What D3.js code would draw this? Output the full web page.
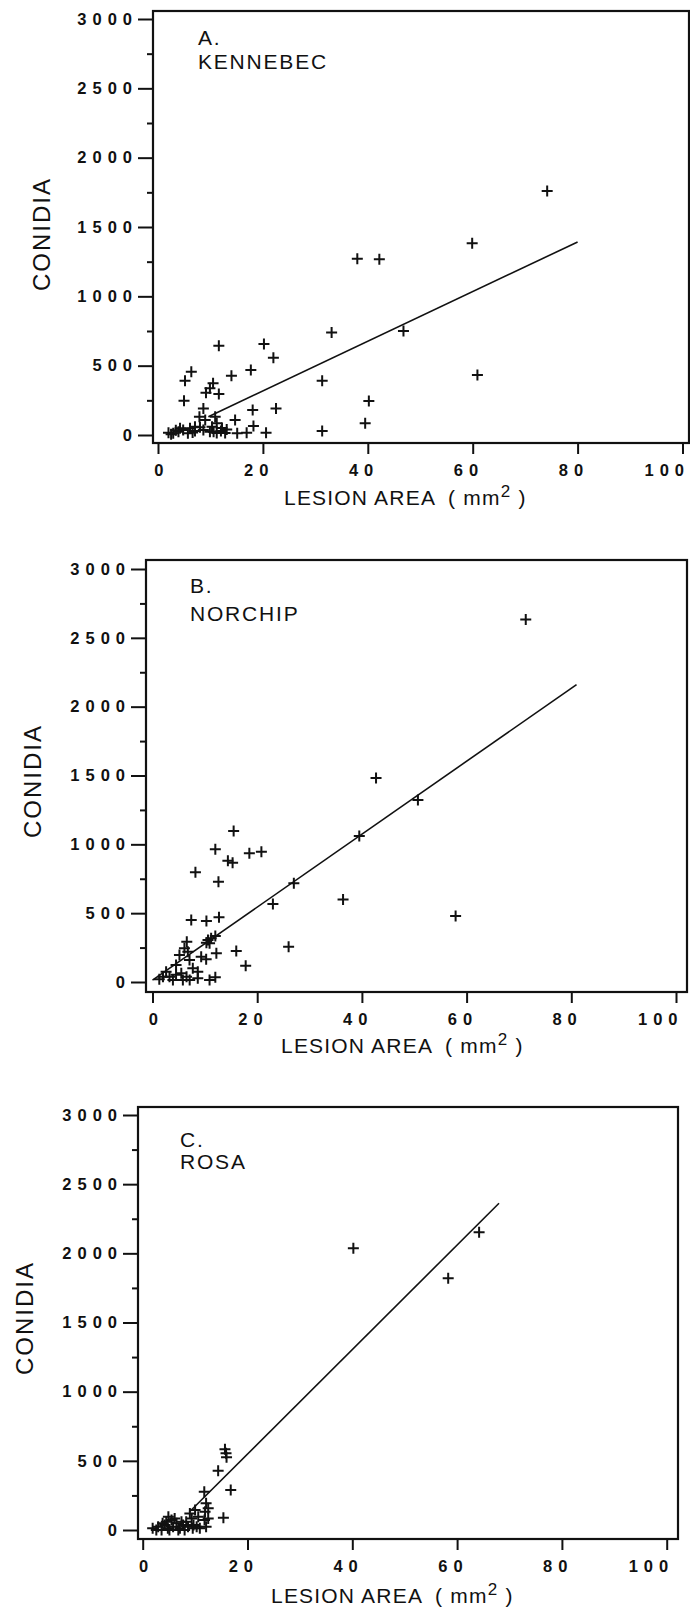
<!DOCTYPE html>
<html>
<head>
<meta charset="utf-8">
<script src="https://cdn.jsdelivr.net/npm/d3@7/dist/d3.min.js"></script>
<style>
body { margin: 0; background: #fff; }
svg { display: block; font-family: "Liberation Sans", Arial, Helvetica, sans-serif; }
.tick text { font-weight: bold; font-size: 16.5px; letter-spacing: 6px; fill: #111; }
.tick line { stroke: #111; stroke-width: 2; }
</style>
</head>
<body>
<svg width="690" height="1610"></svg>
<script>
// ---- data (lesion area mm2, conidia) ----
var kennebecArea = [11.6, 20.2, 22.0, 33.1, 6.35, 5.15, 14.0, 17.7, 10.5, 9.15, 9.9, 11.6, 4.96, 31.3, 8.65, 18.05, 22.5, 14.7, 18.2, 31.3, 20.6, 16.9, 15.1,
    7.9, 9.0, 10.9, 11.2, 10.3, 12.2, 13.1, 6.1, 7.05, 8.65, 9.9, 11.2, 4.8, 3.9, 2.9, 2.0, 4.2, 5.7, 7.05, 8.0, 12.8, 10.6, 2.5, 3.4, 6.6, 12.0,
    74.2, 59.9, 38.0, 42.2, 46.8, 60.9, 40.2, 39.5];
var kennebecConidia = [644, 656, 557, 740, 457, 392, 428, 469, 373, 305, 337, 296, 247, 392, 192, 180, 192, 108, 65, 29, 17, 17, 12,
    132, 108, 132, 84, 60, 50, 40, 48, 60, 36, 24, 14, 36, 24, 12, 17, 48, 12, 29, 55, 14, 24, 5, 35, 18, 28,
    1759, 1382, 1271, 1267, 750, 433, 245, 84];
var kennebecFit = [[9.6, 132], [80, 1392]];

var norchipArea = [15.5, 12.0, 18.5, 20.8, 14.4, 15.3, 8.2, 12.6, 27.0, 23.0, 7.4, 10.3, 12.7, 26.0, 16.0, 17.8, 10.6, 11.2, 10.3, 10.9, 12.0,
    6.55, 6.1, 6.75, 5.15, 9.3, 10.25, 12.2, 7.07, 4.5, 7.7, 8.65, 5.5, 2.6, 2.0, 3.9, 5.8, 6.5, 7.1, 8.65, 10.9, 12.0, 3.25, 1.3, 4.5,
    71.3, 42.7, 50.7, 39.5, 36.4, 57.9];
var norchipConidia = [1097, 964, 935, 946, 881, 866, 797, 728, 717, 566, 450, 443, 470, 256, 225, 118, 305, 317, 285, 281, 334,
    293, 245, 220, 196, 184, 165, 208, 160, 123, 99, 75, 63, 75, 38, 15, 15, 38, 15, 27, 15, 34, 38, 20, 52,
    2634, 1481, 1322, 1060, 600, 480];
var norchipFit = [[0, 14], [81, 2160]];

var rosaArea = [40.2, 64.2, 58.3, 15.7, 15.9, 16.0, 14.4, 16.8, 11.75, 15.4, 12.1, 12.5, 11.9, 12.5, 11.8, 10.6, 10.9, 12.1, 10.0, 9.35,
    1.9, 2.95, 3.6, 4.2, 4.8, 5.5, 5.8, 6.45, 7.1, 7.7, 8.3, 8.65, 9.0, 9.7, 10.3, 4.5, 5.1, 3.8, 6.1, 6.8, 7.4, 8.0, 2.6, 4.9, 9.55];
var rosaConidia = [2037, 2152, 1820, 583, 555, 526, 429, 289, 277, 89, 193, 157, 132, 84, 72, 96, 12, 24, 145, 84,
    12, 24, 0, 36, 12, 72, 24, 48, 12, 36, 60, 24, 120, 36, 24, 60, 0, 48, 84, 0, 60, 0, 0, 96, 12];
var rosaFit = [[8.9, 130], [68, 2362]];

var xTicks = [0, 20, 40, 60, 80, 100];
var yTicks = [0, 500, 1000, 1500, 2000, 2500, 3000];
var yMinorTicks = [250, 750, 1250, 1750, 2250, 2750];

// ---- layout for each panel (pixel positions on the page) ----
var panels = [
  {tag: "A.", name: "KENNEBEC", area: kennebecArea, conidia: kennebecConidia, fit: kennebecFit,
   x0: 158, x100: 682.5, y0: 435, y3000: 19, left: 153, right: 689, top: 11, bottom: 443,
   tagX: 198, tagY: 45, nameY: 69, yLabX: 41, yLabY: 234, xLabX: 284, xLabY: 505},
  {tag: "B.", name: "NORCHIP", area: norchipArea, conidia: norchipConidia, fit: norchipFit,
   x0: 152.5, x100: 676, y0: 982, y3000: 569, left: 146, right: 687, top: 560, bottom: 992,
   tagX: 190, tagY: 593, nameY: 621, yLabX: 32, yLabY: 781, xLabX: 281, xLabY: 1053},
  {tag: "C.", name: "ROSA", area: rosaArea, conidia: rosaConidia, fit: rosaFit,
   x0: 142.7, x100: 666.7, y0: 1530, y3000: 1115, left: 138, right: 678, top: 1107, bottom: 1539,
   tagX: 180, tagY: 1147, nameY: 1169, yLabX: 24, yLabY: 1318, xLabX: 271, xLabY: 1603}
];

var svg = d3.select("svg");

panels.forEach(drawPanel);

function drawPanel(p) {
  var x = d3.scaleLinear().domain([0, 100]).range([p.x0, p.x100]);
  var y = d3.scaleLinear().domain([0, 3000]).range([p.y0, p.y3000]);
  var g = svg.append("g");

  // box round the plot
  g.append("rect")
      .attr("x", p.left).attr("y", p.top)
      .attr("width", p.right - p.left).attr("height", p.bottom - p.top)
      .attr("fill", "none").attr("stroke", "#111").attr("stroke-width", 2.2);

  // y axis, big ticks with labels and small ticks between
  var ya = g.append("g")
      .attr("transform", "translate(" + p.left + ",0)")
      .call(d3.axisLeft(y).tickValues(yTicks).tickSize(15).tickPadding(6).tickFormat(d3.format("d")));
  ya.select(".domain").remove();
  ya.selectAll("text").attr("dx", 6);
  var ym = g.append("g")
      .attr("transform", "translate(" + p.left + ",0)")
      .call(d3.axisLeft(y).tickValues(yMinorTicks).tickSize(6).tickFormat(""));
  ym.select(".domain").remove();

  // x axis, ticks hang under the box; last digit sits under the tick
  var xa = g.append("g")
      .attr("transform", "translate(0," + p.bottom + ")")
      .call(d3.axisBottom(x).tickValues(xTicks).tickSize(11).tickPadding(10).tickFormat(d3.format("d")));
  xa.select(".domain").remove();
  xa.selectAll("text")
      .attr("text-anchor", "end")
      .attr("x", function(d) { return d === 100 ? 7 : 11; });

  // regression line
  var line = d3.line()
      .x(function(d) { return x(d[0]); })
      .y(function(d) { return y(d[1]); });
  g.append("path")
      .datum(p.fit)
      .attr("d", line)
      .attr("fill", "none").attr("stroke", "#111").attr("stroke-width", 1.6);

  // the + markers
  g.append("g").selectAll("path")
      .data(d3.range(p.area.length)).enter()
      .append("path")
      .attr("transform", function(i) { return "translate(" + x(p.area[i]) + "," + y(p.conidia[i]) + ")"; })
      .attr("d", "M-5.5,0H5.5M0,-5.5V5.5")
      .attr("stroke", "#111").attr("stroke-width", 2);

  // panel title
  g.append("text").attr("x", p.tagX).attr("y", p.tagY)
      .attr("font-size", 21).attr("letter-spacing", 1.8).attr("fill", "#111").text(p.tag);
  g.append("text").attr("x", p.tagX).attr("y", p.nameY)
      .attr("font-size", 21).attr("letter-spacing", 1.8).attr("fill", "#111").text(p.name);

  // y label
  g.append("text")
      .attr("transform", "translate(" + p.yLabX + "," + p.yLabY + ") rotate(-90)")
      .attr("text-anchor", "middle").attr("dy", "0.36em")
      .attr("font-size", 24).attr("letter-spacing", 2).attr("fill", "#111")
      .text("CONIDIA");

  // x label
  var xl = g.append("text")
      .attr("x", p.xLabX).attr("y", p.xLabY)
      .attr("font-size", 21).attr("letter-spacing", 1.2).attr("fill", "#111");
  xl.append("tspan").text("LESION AREA");
  xl.append("tspan").attr("dx", 12).text("( mm");
  xl.append("tspan").attr("dy", -8).attr("font-size", 17).text("2");
  xl.append("tspan").attr("dy", 8).text(" )");
}
</script>
</body>
</html>
